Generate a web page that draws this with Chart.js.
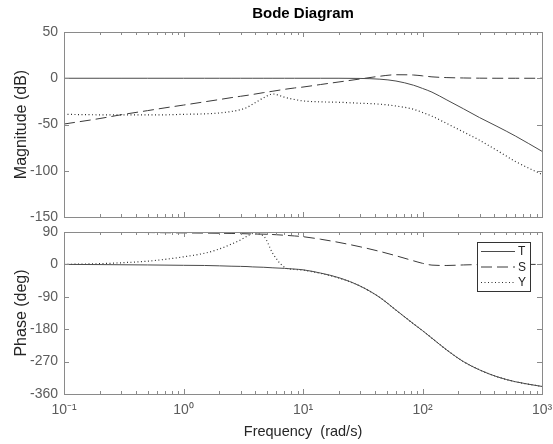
<!DOCTYPE html>
<html>
<head>
<meta charset="utf-8">
<title>Bode Diagram</title>
<script src="https://cdn.jsdelivr.net/npm/chart.js@4.4.1/dist/chart.umd.min.js"></script>
<style>
  html, body { margin: 0; padding: 0; background: #fff; }
  #wrap { position: relative; width: 553px; height: 444px; overflow: hidden; }
  #mag { position: absolute; left: 0; top: 0; }
  #phase { position: absolute; left: 0; top: 224px; }
</style>
</head>
<body>
<div id="wrap">
  <canvas id="mag" width="553" height="225"></canvas>
  <canvas id="phase" width="553" height="220"></canvas>
</div>
<script>
// frequency samples (rad/s)
const freqs = [0.1, 0.2, 0.3, 0.5, 0.7, 1, 1.5, 2, 2.5, 3, 3.4, 3.8, 4.7, 5.6, 7, 8.5,
               10, 14, 20, 30, 44, 60, 84, 100, 120, 160, 220, 300, 420, 600, 1000];

// magnitude (dB)
const magT = [0, 0, 0, 0, 0, 0, 0, 0, 0, 0, 0, 0, 0, 0, 0, 0,
              0, 0, 0, -0.2, -1, -3, -7.5, -11, -15, -23.5, -33, -42.5, -52, -62.5, -79];
const magS = [-49.5, -43.5, -39.5, -35, -32, -29, -25.5, -23, -21, -19.5, -18.5, -17.5, -15.5, -14, -12, -10.5,
              -9.5, -6.8, -4, -0.8, 2.2, 3.8, 3.5, 2.6, 1.5, 0.7, 0.3, 0.1, 0, 0, 0];
const magY = [-39, -39.5, -39.5, -39.5, -39.5, -39, -38.5, -37.5, -36, -34, -31.5, -28, -21, -17, -20.5, -23,
              -24.5, -25.5, -26, -27, -28, -30, -33.5, -37, -41, -49, -58, -67, -78, -90, -104];

// phase (deg)
const phT = [0, -0.5, -1, -1.5, -2, -2.5, -3, -4, -5, -5.5, -6, -7, -8, -9.5, -11, -13,
             -15, -24, -37, -60, -92, -127, -165, -184, -205, -238, -270, -293, -312, -326, -339];
const phS = [89, 89, 89, 88.5, 88, 87.5, 87, 86.5, 86, 85.5, 85, 84.5, 84, 83, 81, 79,
             77, 70, 61, 49, 36, 24, 10, 3, -2, -3, -1.5, -0.5, 0, 0, 0];
const phY = [0, 2, 4.5, 9, 14, 21, 31, 43, 56, 68, 78, 86, 78, 30, -8, -14,
             -16, -25, -38, -60, -92, -127, -165, -184, -205, -238, -270, -293, -312, -326, -339];

const seriesNames = ['T', 'S', 'Y'];
const xTickValues = [0.1, 1, 10, 100, 1000];
const xTickLabels = ['10\u207B\u00B9', '10\u2070', '10\u00B9', '10\u00B2', '10\u00B3'];
const magTicks = { min: -150, max: 50, step: 50 };
const phaseTicks = { min: -360, max: 90, step: 90 };

const axisColor = '#8a8a8a';
const tickColor = '#5c5c5c';
const labelColor = '#262626';

Chart.defaults.font.family = 'Helvetica, "Liberation Sans", Arial, sans-serif';
Chart.defaults.animation = false;

function pts(ys) {
    return freqs.map((f, i) => ({ x: f, y: ys[i] }));
}

function makeSets(a, b, c) {
    return [
        { label: seriesNames[0], data: pts(a), borderColor: '#4a4a4a', borderWidth: 1, borderDash: [] },
        { label: seriesNames[1], data: pts(b), borderColor: '#3a3a3a', borderWidth: 1, borderDash: [11, 5] },
        { label: seriesNames[2], data: pts(c), borderColor: '#2e2e2e', borderWidth: 1.2, borderDash: [1, 2.5] }
    ];
}

// box + inward tick marks like MATLAB axes
const frameTicks = {
    id: 'frameTicks',
    afterDatasetsDraw(chart) {
        const { ctx, chartArea: a, scales: { x, y } } = chart;
        ctx.save();
        ctx.strokeStyle = axisColor;
        ctx.lineWidth = 1;
        ctx.beginPath();
        for (let d = -1; d < 3; d++) {
            for (let k = 1; k < 10; k++) {
                const px = Math.round(x.getPixelForValue(k * Math.pow(10, d))) + 0.5;
                const len = k === 1 ? 5 : 3;
                ctx.moveTo(px, a.bottom); ctx.lineTo(px, a.bottom - len);
                ctx.moveTo(px, a.top); ctx.lineTo(px, a.top + len);
            }
        }
        y.ticks.forEach(t => {
            const py = Math.round(y.getPixelForValue(t.value)) + 0.5;
            ctx.moveTo(a.left, py); ctx.lineTo(a.left + 5, py);
            ctx.moveTo(a.right, py); ctx.lineTo(a.right - 5, py);
        });
        ctx.stroke();
        ctx.strokeRect(Math.round(a.left) + 0.5, Math.round(a.top) + 0.5,
                       Math.round(a.right - a.left), Math.round(a.bottom - a.top));
        ctx.restore();
    }
};

const plotTitle = {
    id: 'plotTitle',
    afterDraw(chart) {
        const { ctx, chartArea: a } = chart;
        ctx.save();
        ctx.fillStyle = '#000';
        ctx.font = 'bold 15px Helvetica, "Liberation Sans", Arial, sans-serif';
        ctx.textAlign = 'center';
        ctx.textBaseline = 'middle';
        ctx.fillText('Bode Diagram', (a.left + a.right) / 2, 14);
        ctx.restore();
    }
};

const boxLegend = {
    id: 'boxLegend',
    afterDraw(chart) {
        const { ctx, chartArea: a } = chart;
        const w = 53, h = 49;
        const left = Math.round(a.right) - 12 - w, top = Math.round(a.top) + 10;
        ctx.save();
        ctx.fillStyle = '#fff';
        ctx.fillRect(left, top, w, h);
        ctx.strokeStyle = '#333';
        ctx.lineWidth = 1;
        ctx.strokeRect(left + 0.5, top + 0.5, w, h);
        ctx.font = '12px Helvetica, "Liberation Sans", Arial, sans-serif';
        ctx.textBaseline = 'middle';
        ctx.textAlign = 'left';
        chart.data.datasets.forEach((ds, i) => {
            const yy = top + 9.5 + i * 15.5;
            ctx.strokeStyle = ds.borderColor;
            ctx.lineWidth = ds.borderWidth;
            ctx.setLineDash(ds.borderDash);
            ctx.beginPath();
            ctx.moveTo(left + 4, yy);
            ctx.lineTo(left + 38, yy);
            ctx.stroke();
            ctx.setLineDash([]);
            ctx.fillStyle = '#222';
            ctx.fillText(ds.label, left + 41, yy + 0.5);
        });
        ctx.restore();
    }
};

function yAxis(rng, title) {
    return {
        min: rng.min, max: rng.max,
        ticks: { stepSize: rng.step, color: tickColor, padding: 6, font: { size: 14 } },
        grid: { display: false, drawTicks: false },
        border: { display: false },
        title: { display: true, text: title, color: labelColor, font: { size: 16 }, padding: { top: 12 } },
        afterFit(s) { s.width = 64; s.paddingTop = 0; s.paddingBottom = 0; }
    };
}

const lineOpts = {
    responsive: false,
    elements: { point: { radius: 0 }, line: { cubicInterpolationMode: 'monotone', fill: false } },
    plugins: { legend: { display: false }, tooltip: { enabled: false }, title: { display: false } }
};

new Chart(document.getElementById('mag'), {
    type: 'line',
    data: { datasets: makeSets(magT, magS, magY) },
    options: {
        ...lineOpts,
        layout: { padding: { top: 32, right: 11, left: 0, bottom: 0 } },
        scales: {
            x: {
                type: 'logarithmic', min: 0.1, max: 1000,
                ticks: { display: false },
                grid: { display: false, drawTicks: false },
                border: { display: false },
                afterFit(s) { s.height = 8; s.paddingLeft = 0; s.paddingRight = 0; }
            },
            y: yAxis(magTicks, 'Magnitude (dB)')
        }
    },
    plugins: [frameTicks, plotTitle]
});

new Chart(document.getElementById('phase'), {
    type: 'line',
    data: { datasets: makeSets(phT, phS, phY) },
    options: {
        ...lineOpts,
        layout: { padding: { top: 8, right: 11, left: 0, bottom: 0 } },
        scales: {
            x: {
                type: 'logarithmic', min: 0.1, max: 1000,
                afterBuildTicks(s) { s.ticks = xTickValues.map(v => ({ value: v })); },
                ticks: {
                    color: tickColor, padding: 8, font: { size: 14 },
                    autoSkip: false, maxRotation: 0,
                    callback: (v, i) => xTickLabels[i]
                },
                grid: { display: false, drawTicks: false },
                border: { display: false },
                title: { display: true, text: 'Frequency  (rad/s)', color: labelColor, font: { size: 14.5 }, padding: { bottom: 3 } },
                afterFit(s) { s.height = 50; s.paddingLeft = 0; s.paddingRight = 0; }
            },
            y: yAxis(phaseTicks, 'Phase (deg)')
        }
    },
    plugins: [frameTicks, boxLegend]
});
</script>
</body>
</html>
